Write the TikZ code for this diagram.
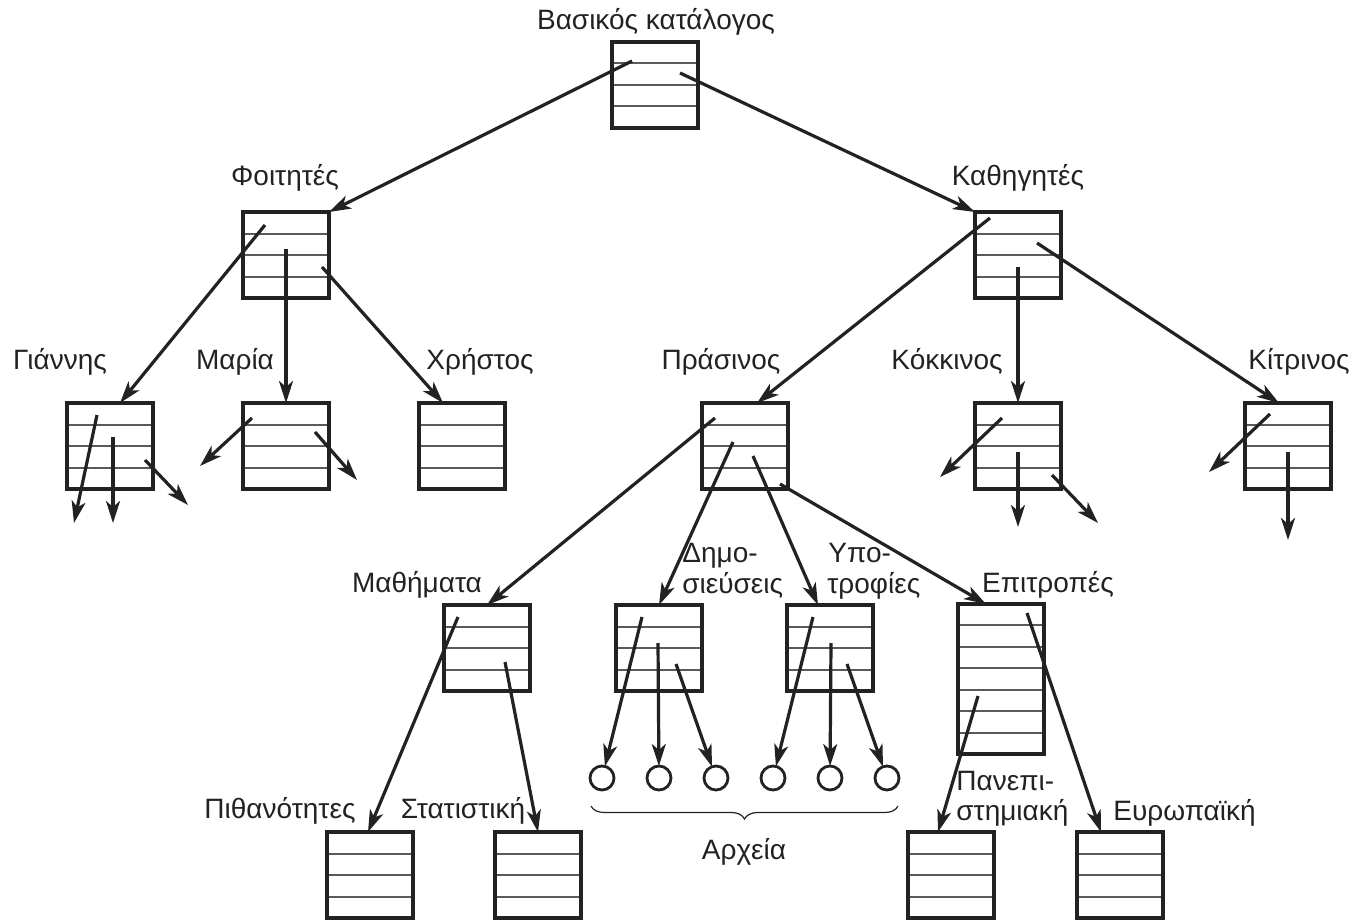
\documentclass[tikz,border=0pt]{standalone}
\usepackage{fontspec}
\setmainfont{Liberation Sans}
\usetikzlibrary{arrows.meta,calc,decorations.pathreplacing}
\definecolor{ink}{HTML}{222222}
\definecolor{rowc}{HTML}{5A5A5A}
\newcommand\dirrows[2]{\foreach \f in {#2}{\draw[rowline] ($(#1.north west)!\f!(#1.south west)$) -- ($(#1.north east)!\f!(#1.south east)$);}}
\begin{document}
\begin{tikzpicture}[x=0.5pt,y=-0.5pt,
  dirbox/.style={draw=ink, line width=1.7pt, minimum width=43pt, minimum height=43pt, inner sep=0pt, outer sep=0pt},
  tallbox/.style={dirbox, minimum height=75pt},
  lbl/.style={font=\fontsize{14}{15}\selectfont, text=ink, inner sep=0pt, anchor=base},
  lblw/.style={lbl, anchor=base west},
  arr/.style={draw=ink, line width=1.6pt, -{Stealth[length=11pt,width=7pt,inset=3pt]}},
  rowline/.style={draw=rowc, line width=1pt, shorten <=0.85pt, shorten >=0.85pt},
  file/.style={circle, draw=ink, line width=1.4pt, minimum size=12pt, inner sep=0pt, outer sep=0pt},
  bracestyle/.style={draw=ink, line width=0.6pt, decorate, decoration={brace, mirror, amplitude=6.5pt}}]
\useasboundingbox (0,0) rectangle (1354,920);

% boxes
\node[dirbox] (root) at (655,85) {};
\node[dirbox] (fo) at (286,255) {};
\node[dirbox] (ka) at (1018,255) {};
\node[dirbox] (gi) at (110,446) {};
\node[dirbox] (ma) at (286,446) {};
\node[dirbox] (xr) at (462,446) {};
\node[dirbox] (pr) at (745,446) {};
\node[dirbox] (ko) at (1018,446) {};
\node[dirbox] (ki) at (1288,446) {};
\node[dirbox] (mat) at (487,648) {};
\node[dirbox] (dim) at (659,648) {};
\node[dirbox] (ypo) at (830,648) {};
\node[tallbox] (epi) at (1001,679) {};
\node[dirbox] (pit) at (370,875) {};
\node[dirbox] (sta) at (538,875) {};
\node[dirbox] (pan) at (951,875) {};
\node[dirbox] (eyr) at (1120,875) {};

\foreach \n in {root,fo,ka,gi,ma,xr,pr,ko,ki,mat,dim,ypo,pit,sta,pan,eyr}{\dirrows{\n}{0.25,0.5,0.75}}
\dirrows{epi}{0.142857,0.285714,0.428571,0.571429,0.714286,0.857143}

% files
\node[file] (f1) at (602,778) {};
\node[file] (f2) at (659,778) {};
\node[file] (f3) at (716,778) {};
\node[file] (f4) at (773,778) {};
\node[file] (f5) at (830,778) {};
\node[file] (f6) at (887,778) {};

% labels
\node[lbl] (t0) at (656,30) {Βασικός κατάλογος};
\node[lbl] (tfo) at (285,185) {Φοιτητές};
\node[lbl] (tka) at (1018,185) {Καθηγητές};
\node[lbl] (tgi) at (60,369) {Γιάννης};
\node[lbl] (tma) at (235,369) {Μαρία};
\node[lbl] (txr) at (480,369) {Χρήστος};
\node[lbl] (tpr) at (721,369) {Πράσινος};
\node[lbl] (tko) at (947,369) {Κόκκινος};
\node[lbl] (tki) at (1299,369) {Κίτρινος};
\node[lbl] (tmat) at (417,592) {Μαθήματα};
\node[lblw] (tdim1) at (682,562) {Δημο-};
\node[lblw] (tdim2) at (682,593) {σιεύσεις};
\node[lblw] (typo1) at (828,562) {Υπο-};
\node[lblw] (typo2) at (827,593) {τροφίες};
\node[lbl] (tepi) at (1048,592) {Επιτροπές};
\node[lbl] (tpit) at (280,818) {Πιθανότητες};
\node[lbl] (tsta) at (463,818) {Στατιστική};
\node[lblw] (tpan1) at (956,790) {Πανεπι-};
\node[lblw] (tpan2) at (956,820) {στημιακή};
\node[lblw] (teyr) at (1113,820) {Ευρωπαϊκή};
\node[lbl] (tarx) at (744,859) {Αρχεία};

% brace
\coordinate (b1) at (591,806);
\coordinate (b2) at (898,806);
\draw[bracestyle] (b1) -- (b2);

% start points
\coordinate (rs1) at (632,61);   \coordinate (rs2) at (680,73);
\coordinate (fs1) at (265,225);  \coordinate (fs2) at (286,249);  \coordinate (fs3) at (322,267);
\coordinate (ks1) at (990,218);  \coordinate (ks2) at (1018,267); \coordinate (ks3) at (1037,243);
\coordinate (ps1) at (715,418);  \coordinate (ps2) at (733,442);  \coordinate (ps3) at (753,456); \coordinate (ps4) at (780,484);
\coordinate (as1) at (458,617);  \coordinate (as2) at (505,662);
\coordinate (ds1) at (642,617);  \coordinate (ds2) at (658,643);  \coordinate (ds3) at (676,664);
\coordinate (us1) at (813,617);  \coordinate (us2) at (831,643);  \coordinate (us3) at (847,664);
\coordinate (es1) at (978,696);  \coordinate (es2) at (1027,613);

% tree arrows
\draw[arr] (rs1) -- (fo.north east);
\draw[arr] (rs2) -- (ka.north west);
\draw[arr] (fs1) -- ([xshift=5pt]gi.north);
\draw[arr] (fs2) -- (ma.north);
\draw[arr] (fs3) -- ([xshift=-9.5pt]xr.north);
\draw[arr] (ks1) -- ([xshift=6pt]pr.north);
\draw[arr] (ks2) -- (ko.north);
\draw[arr] (ks3) -- ([xshift=-4.5pt]ki.north);
\draw[arr] (ps1) -- (mat.north);
\draw[arr] (ps2) -- (dim.north);
\draw[arr] (ps3) -- ([xshift=-6pt]ypo.north);
\draw[arr] (ps4) -- ([xshift=-7.5pt]epi.north);
\draw[arr] (as1) -- ([xshift=-1pt]pit.north);
\draw[arr] (as2) -- (sta.north);
\draw[arr] (ds1) -- (f1);
\draw[arr] (ds2) -- (f2);
\draw[arr] (ds3) -- (f3);
\draw[arr] (us1) -- (f4);
\draw[arr] (us2) -- (f5);
\draw[arr] (us3) -- (f6);
\draw[arr] (es1) -- ([xshift=-6.5pt]pan.north);
\draw[arr] (es2) -- ([xshift=-9.5pt]eyr.north);

% dangling pointers
\coordinate (g1s) at (97,415);   \coordinate (g1e) at (74,523);
\coordinate (g2s) at (113,437);  \coordinate (g2e) at (113,523);
\coordinate (g3s) at (145,460);  \coordinate (g3e) at (188,505);
\coordinate (m1s) at (252,418);  \coordinate (m1e) at (200,466);
\coordinate (m2s) at (315,432);  \coordinate (m2e) at (357,480);
\coordinate (k1s) at (1002,418); \coordinate (k1e) at (940,477);
\coordinate (k2s) at (1018,452); \coordinate (k2e) at (1018,527);
\coordinate (k3s) at (1052,475); \coordinate (k3e) at (1098,523);
\coordinate (y1s) at (1270,414); \coordinate (y1e) at (1209,472);
\coordinate (y2s) at (1288,452); \coordinate (y2e) at (1288,540);
\foreach \a in {g1,g2,g3,m1,m2,k1,k2,k3,y1,y2}{\draw[arr] (\a s) -- (\a e);}
\end{tikzpicture}
\end{document}
